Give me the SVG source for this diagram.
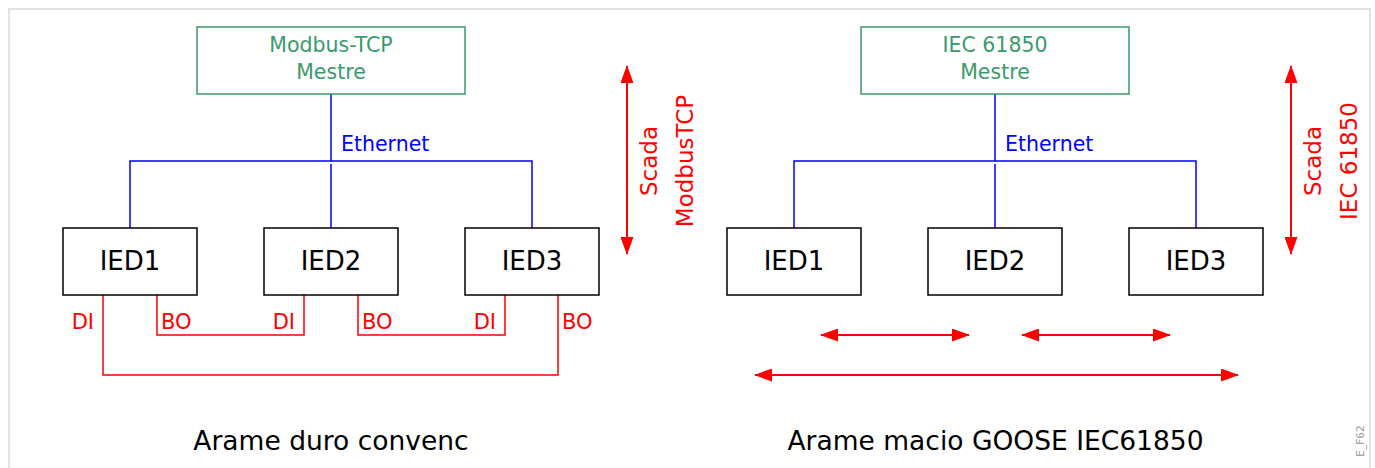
<svg xmlns="http://www.w3.org/2000/svg" width="1375" height="468" viewBox="0 0 1375 468">
<defs>
<style>
.frame{fill:#fff;stroke:#e2e2e2;stroke-width:2}
.master{fill:#fff;stroke:#3a9a6a;stroke-width:1.5}
.mtext{fill:#3a9a6a;font-family:"DejaVu Sans",sans-serif;font-size:20.5px;text-anchor:middle}
.ied{fill:#fff;stroke:#000;stroke-width:1.5}
.itext{fill:#000;font-family:"DejaVu Sans",sans-serif;font-size:26px;text-anchor:middle}
.eth{fill:none;stroke:#0000ff;stroke-width:1.5}
.ethtext{fill:#0000ff;font-family:"DejaVu Sans",sans-serif;font-size:20.5px}
.wire{fill:none;stroke:#ff0000;stroke-width:1.5}
.rtext{fill:#ff0000;font-family:"DejaVu Sans",sans-serif;font-size:21px}
.stext{fill:#ff0000;font-family:"DejaVu Sans",sans-serif;font-size:23px;text-anchor:middle}
.arr{fill:none;stroke:#ff0000;stroke-width:2;marker-start:url(#ah);marker-end:url(#ah)}
.title{fill:#000;font-family:"DejaVu Sans",sans-serif;font-size:26.5px;text-anchor:middle}
.tag{fill:#999;font-family:"DejaVu Sans",sans-serif;font-size:10.5px;text-anchor:middle}
</style>
<marker id="ah" viewBox="0 0 18 13" refX="17" refY="6.5" markerWidth="18" markerHeight="13" markerUnits="userSpaceOnUse" orient="auto-start-reverse">
<path d="M0,0 L18,6.5 L0,13 Z" fill="#ff0000"/>
</marker>
</defs>
<rect class="frame" x="9" y="9" width="1361" height="470"/>

<g id="connectors">
<path class="eth" d="M331,94 V161 M130,228 V161 H532 V228 M331,164 V228"/>
<path class="eth" d="M995,94 V161 M794,228 V161 H1196 V228 M995,164 V228"/>
<path class="wire" d="M157,295 V335 H304 V295 M358,295 V335 H505 V295 M103,295 V375 H558 V295"/>
<line class="arr" x1="627" y1="66" x2="627" y2="254"/>
<line class="arr" x1="1291" y1="66" x2="1291" y2="254"/>
<line class="arr" x1="821" y1="335" x2="969" y2="335"/>
<line class="arr" x1="1022" y1="335" x2="1170" y2="335"/>
<line class="arr" x1="755" y1="375" x2="1238" y2="375"/>
</g>

<g id="modbus-master">
<rect class="master" x="197" y="27" width="268" height="67"/>
<text class="mtext" x="331" y="51.5">Modbus-TCP</text>
<text class="mtext" x="331" y="79">Mestre</text>
</g>
<g id="iec-master">
<rect class="master" x="861" y="27" width="268" height="67"/>
<text class="mtext" x="995" y="51.5">IEC 61850</text>
<text class="mtext" x="995" y="79">Mestre</text>
</g>

<text class="ethtext" x="341" y="150.5">Ethernet</text>
<text class="ethtext" x="1005" y="150.5">Ethernet</text>

<g id="L-IED1"><rect class="ied" x="63" y="228" width="134" height="67"/><text class="itext" x="130" y="269.5">IED1</text></g>
<g id="L-IED2"><rect class="ied" x="264" y="228" width="134" height="67"/><text class="itext" x="331" y="269.5">IED2</text></g>
<g id="L-IED3"><rect class="ied" x="465" y="228" width="134" height="67"/><text class="itext" x="532" y="269.5">IED3</text></g>
<g id="R-IED1"><rect class="ied" x="727" y="228" width="134" height="67"/><text class="itext" x="794" y="269.5">IED1</text></g>
<g id="R-IED2"><rect class="ied" x="928" y="228" width="134" height="67"/><text class="itext" x="995" y="269.5">IED2</text></g>
<g id="R-IED3"><rect class="ied" x="1129" y="228" width="134" height="67"/><text class="itext" x="1196" y="269.5">IED3</text></g>

<g id="io-labels">
<text class="rtext" x="94" y="329" text-anchor="end">DI</text>
<text class="rtext" x="161" y="329">BO</text>
<text class="rtext" x="295" y="329" text-anchor="end">DI</text>
<text class="rtext" x="362" y="329">BO</text>
<text class="rtext" x="496" y="329" text-anchor="end">DI</text>
<text class="rtext" x="562" y="329">BO</text>
</g>

<g id="scada-labels">
<text class="stext" transform="translate(657,161) rotate(-90)">Scada</text>
<text class="stext" transform="translate(692.5,161) rotate(-90)">ModbusTCP</text>
<text class="stext" transform="translate(1320.5,161) rotate(-90)">Scada</text>
<text class="stext" transform="translate(1356.5,161) rotate(-90)">IEC 61850</text>
</g>

<text class="title" x="331" y="450">Arame duro convenc</text>
<text class="title" x="995.5" y="450">Arame macio GOOSE IEC61850</text>
<text class="tag" transform="translate(1364,441) rotate(-90)">E_F62</text>
</svg>
